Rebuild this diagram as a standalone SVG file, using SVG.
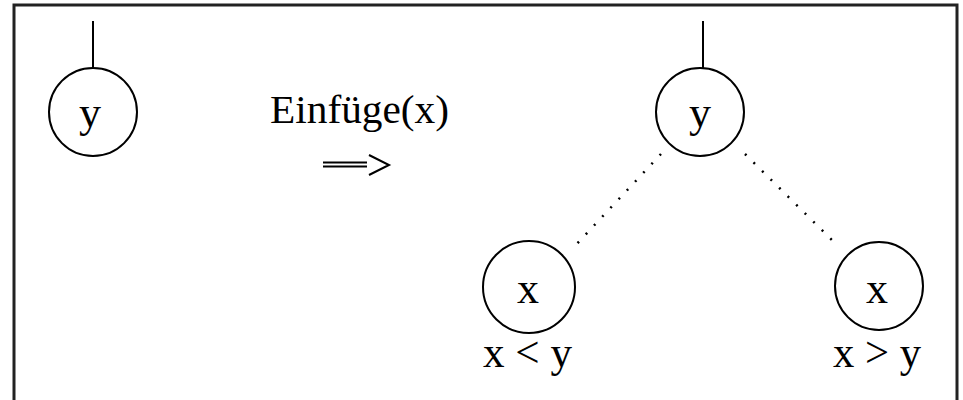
<svg xmlns="http://www.w3.org/2000/svg" width="963" height="400" viewBox="0 0 963 400">
<style>
.node{fill:none;stroke:#000;stroke-width:2}
.lab{font-family:"Liberation Serif","Times New Roman",serif;font-size:44px;fill:#000}
.t{font-family:"Liberation Serif","Times New Roman",serif;font-size:40px;fill:#000}
.edge{stroke:#000;stroke-width:2;fill:none}
.dot{stroke:#000;stroke-width:2.5;stroke-dasharray:2 10;fill:none}
</style>
<rect width="963" height="400" fill="#fff"/>
<path d="M14 400 V5 H957 V400" fill="none" stroke="#222" stroke-width="3"/>
<g id="connectors">
<line class="edge" x1="93" y1="21" x2="93" y2="68"/>
<line class="edge" x1="703" y1="21" x2="703" y2="68"/>
<line class="dot" x1="661" y1="154" x2="572" y2="249"/>
<line class="dot" x1="745" y1="154" x2="838" y2="246"/>
</g>
<g id="node-y-left">
<circle class="node" cx="93" cy="112" r="44"/>
<text class="lab" x="90" y="127" text-anchor="middle">y</text>
</g>
<g id="label-insert">
<text class="t" x="270" y="123" textLength="179" lengthAdjust="spacingAndGlyphs">Einfüge(x)</text>
<path d="M323 162.5 H367 M323 166.5 H367" stroke="#000" stroke-width="2" fill="none"/>
<path d="M369 155 L389 165 L369 175" stroke="#000" stroke-width="2" fill="none"/>
</g>
<g id="node-y-right">
<circle class="node" cx="700" cy="112" r="44"/>
<text class="lab" x="700" y="127" text-anchor="middle">y</text>
</g>
<g id="node-x-left">
<circle class="node" cx="529" cy="287" r="46"/>
<text class="lab" x="528" y="303" text-anchor="middle">x</text>
<text class="lab" x="483" y="367" textLength="89" lengthAdjust="spacingAndGlyphs">x &lt; y</text>
</g>
<g id="node-x-right">
<circle class="node" cx="879" cy="286" r="44"/>
<text class="lab" x="877" y="303" text-anchor="middle">x</text>
<text class="lab" x="833" y="367" textLength="88" lengthAdjust="spacingAndGlyphs">x &gt; y</text>
</g>
</svg>
